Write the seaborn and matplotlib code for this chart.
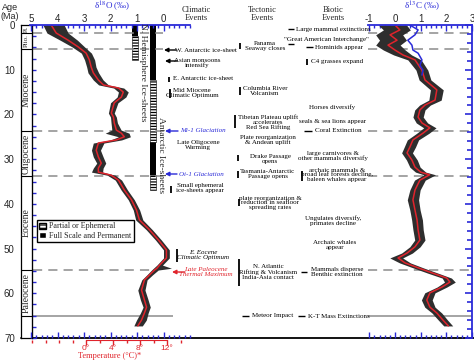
import matplotlib
matplotlib.use("Agg")

import matplotlib.pyplot as plt
import numpy as np
import seaborn as sns
from matplotlib.patches import Patch, Rectangle
from matplotlib.ticker import MultipleLocator

# ---------------- data ----------------
epoch_names = ["Pl.", "Plio.", "Miocene", "Oligocene", "Eocene", "Paleocene"]
epoch_bounds = [0.0, 1.8, 5.3, 23.8, 33.7, 54.8, 65.0]
age_ticks = list(range(0, 71, 10))

# benthic d18O: smoothed curve plus the edges of the data cloud
o18_age = [0, 1.8, 3.4, 4.9, 6.3, 7.8, 9.4, 10.7, 12.3, 13.4, 14.1, 15.0, 16.1, 17.4,
           19.7, 20.6, 21.9, 23.5, 24.2, 25.0, 25.7, 26.4, 28.0, 29.5, 30.9, 32.0,
           32.9, 33.6, 34.7, 36.9, 39.1, 41.4, 43.6, 45.8, 48.1, 50.3, 52.1, 53.7,
           54.4, 54.8, 55.9, 57.0, 59.3, 61.5, 63.1, 64.4, 66.0, 67.3]
o18_mid = [4.24, 4.05, 3.60, 3.22, 2.92, 2.80, 2.73, 2.65, 2.46, 2.27, 1.70, 1.52, 1.59, 1.86,
           1.97, 1.89, 1.86, 1.78, 1.59, 1.48, 1.78, 2.46, 2.54, 2.46, 2.35, 2.46,
           2.46, 1.97, 1.70, 1.48, 1.21, 1.02, 0.91, 0.53, 0.19, -0.11, -0.11, 0.15,
           0.25, 0.34, 0.53, 0.72, 0.83, 0.72, 0.64, 0.72, 0.83, 0.97]
o18_hi = [4.55, 4.40, 3.90, 3.45, 3.10, 2.98, 2.90, 2.85, 2.65, 2.45, 1.88, 1.70, 1.75, 2.00,
          2.08, 2.00, 1.98, 1.95, 2.20, 1.70, 2.00, 2.65, 2.72, 2.65, 2.52, 2.65,
          2.72, 2.12, 1.82, 1.60, 1.33, 1.14, 1.05, 0.65, 0.30, 0.00, 0.00, 0.25,
          0.38, 0.45, 0.63, 0.82, 0.97, 0.87, 0.77, 0.87, 1.02, 1.12]
o18_lo = [3.75, 3.60, 3.25, 2.98, 2.72, 2.60, 2.55, 2.45, 2.28, 2.08, 1.50, 1.33, 1.42, 1.72,
          1.86, 1.78, 1.74, 1.60, 1.30, 1.25, 1.58, 2.25, 2.38, 2.28, 2.18, 2.28,
          2.30, 1.82, 1.58, 1.36, 1.10, 0.90, 0.78, 0.42, 0.08, -0.22, -0.22, 0.04,
          -0.30, 0.20, 0.42, 0.62, 0.70, 0.58, 0.50, 0.58, 0.65, 0.80]

# benthic d13C
c13_age = [0, 1.1, 2.2, 3.4, 4.5, 5.6, 6.7, 7.8, 10.1, 12.3, 14.5, 16.8, 17.9, 19.0, 20.6,
           21.9, 23.0, 24.2, 25.7, 27.3, 28.6, 30.2, 31.8, 32.9, 33.5, 34.7, 36.9, 39.1,
           41.4, 43.6, 45.8, 48.1, 49.6, 51.0, 52.1, 53.2, 54.3, 55.5, 56.6, 57.5, 58.6,
           59.9, 61.5, 63.1, 64.4, 66.0, 67.3]
c13_mid = [0.00, 0.19, -0.19, 0.08, -0.27, 0.00, 0.31, 0.78, 1.05, 1.17, 1.63, 1.56, 1.17,
           0.97, 0.90, 1.05, 1.36, 1.09, 0.70, 0.58, 0.47, 0.66, 0.78, 1.00, 1.35, 0.97,
           0.78, 0.70, 0.78, 0.86, 0.90, 0.97, 0.78, 0.47, 0.12, 0.39, 0.90, 1.48, 2.02,
           2.14, 1.83, 1.36, 1.24, 1.36, 1.63, 1.87, 2.08]
c13_lo = [-0.65, -0.45, -0.75, -0.60, -0.75, -0.45, -0.05, 0.50, 0.82, 0.94, 1.38, 1.32, 0.96,
          0.77, 0.70, 0.83, 1.12, 0.85, 0.48, 0.36, 0.26, 0.45, 0.58, 0.80, 1.12, 0.76,
          0.58, 0.48, 0.58, 0.65, 0.70, 0.77, 0.58, 0.26, -0.20, 0.18, 0.70, 1.28, 1.84,
          1.93, 1.64, 1.16, 1.03, 1.16, 1.44, 1.69, 1.90]
c13_hi = [0.45, 0.60, 0.30, 0.45, 0.20, 0.40, 0.65, 1.02, 1.28, 1.40, 1.88, 1.80, 1.38,
          1.17, 1.10, 1.27, 1.60, 1.33, 0.92, 0.80, 0.68, 0.87, 0.98, 1.20, 1.58, 1.18,
          0.98, 0.92, 0.98, 1.07, 1.10, 1.17, 0.98, 0.68, 0.30, 0.60, 1.10, 1.68, 2.20,
          2.35, 2.02, 1.56, 1.45, 1.56, 1.82, 2.05, 2.25]
# second (blue) d13C record, Neogene only
c13b_age = [0, 1.1, 2.2, 3.4, 4.5, 5.6, 6.3, 7.8, 9.0, 10.1, 11.2]
c13b_val = [0.58, 0.90, 0.78, 0.50, 0.66, 0.70, 0.90, 1.05, 0.97, 1.09, 1.05]

# ice sheet extents (Ma)
nh_full = [(0.0, 2.5)]
nh_partial = [(2.5, 7.8)]
ant_full = [(0.0, 12.3), (26.2, 33.6)]
ant_partial = [(12.3, 26.2), (33.6, 37.0)]

o18_ticks = [5, 4, 3, 2, 1, 0]
c13_ticks = [-1, 0, 1, 2, 3]
temp_ticks = [0, 4, 8, 12]

# ---------------- styling ----------------
sns.set_style("white")
plt.rcParams["font.family"] = ["Liberation Serif", "DejaVu Serif"]
plt.rcParams["mathtext.fontset"] = "stix"
plt.rcParams["hatch.linewidth"] = 0.9
BLUE = "#2a2ad8"
RED = "#e0242c"
CLOUD = "#2e2e2e"
GRAY = "#8c8c8c"
SANS = "Liberation Sans"

W, H = 474, 361
TOP, BOT = 25, 338  # pixel rows of 0 Ma and 70 Ma

fig = plt.figure(figsize=(W / 100, H / 100), dpi=100)


def panel(x0, x1):
    return fig.add_axes([x0 / W, 1 - BOT / H, (x1 - x0) / W, (BOT - TOP) / H])


# base axes: x in pixels, y in Ma
ax = panel(0, 474)
ax.set_xlim(0, 474)
ax.set_ylim(70, 0)
ax.axis("off")

# epoch column with age axis
ax_ep = panel(21, 32)
ax_ep.set_xlim(0, 1)
ax_ep.set_ylim(70, 0)
ax_ep.set_xticks([])
ax_ep.set_yticks(age_ticks)
ax_ep.set_yticklabels(age_ticks, family=SANS, fontsize=7)
ax_ep.tick_params(axis="y", direction="out", length=3, width=0.8, pad=1.5)
for s in ax_ep.spines.values():
    s.set_color("black")
    s.set_linewidth(0.9)
for b in epoch_bounds[1:]:
    ax_ep.axhline(b, color="black", lw=0.8)
ep_sizes = [4.3, 5, 7, 7, 7, 7]
for name, a0, a1, fs in zip(epoch_names, epoch_bounds[:-1], epoch_bounds[1:], ep_sizes):
    ax_ep.text(0.5, (a0 + a1) / 2, name, rotation=90, ha="center", va="center", fontsize=fs)
sec = ax_ep.secondary_yaxis("right")
sec.set_yticks(np.arange(0, 70.1, 2.5))
sec.tick_params(axis="y", direction="out", length=3, width=1, color=BLUE, labelright=False)
fig.text(10 / W, 1 - 12 / H, "Age\n(Ma)", family=SANS, fontsize=6.5, ha="center", va="center",
         linespacing=1.0)

# dashed epoch boundaries across the figure
for b in epoch_bounds[1:-1]:
    right_end = 150 if b > 50 else 163
    ax.hlines(b, 33, right_end, colors=GRAY, lw=1.1, linestyles=(0, (6, 4)))
    ax.hlines(b, 368, 472, colors=GRAY, lw=1.1, linestyles=(0, (6, 4)))
ax.hlines(epoch_bounds[-1], 33, 173, colors=GRAY, lw=1.1)
ax.hlines(epoch_bounds[-1], 368, 472, colors=GRAY, lw=1.1)
ax.plot([21, 474], [70, 70], color="black", lw=1.3, clip_on=False)

# ---------------- d18O panel ----------------
ax18 = panel(30, 190)
ax18.patch.set_alpha(0)
ax18.set_xlim(5.04, -1.0)
ax18.set_ylim(70, 0)
ax18.fill_betweenx(o18_age, o18_lo, o18_hi, color=CLOUD, lw=0)
sns.lineplot(x=o18_mid, y=o18_age, sort=False, estimator=None, color=RED, lw=1.1, ax=ax18)
for side in ["left", "right", "bottom"]:
    ax18.spines[side].set_visible(False)
ax18.spines["top"].set_color(BLUE)
ax18.spines["top"].set_linewidth(1.3)
ax18.set_xticks(o18_ticks)
ax18.set_xticklabels(o18_ticks, family=SANS, fontsize=7)
ax18.xaxis.set_minor_locator(MultipleLocator(0.2))
ax18.tick_params(axis="x", which="both", top=True, bottom=True, labeltop=True, labelbottom=False,
                 direction="in", color=BLUE, width=1, pad=1)
ax18.tick_params(axis="x", which="major", length=4)
ax18.tick_params(axis="x", which="minor", length=2.5)
ax18.set_yticks([])
ax18.set_xlabel("")
ax18.set_ylabel("")
fig.text(112 / W, 1 - 6 / H, "δ$^{18}$O (‰)", color=BLUE, fontsize=6.5, ha="center", va="center")


def d2t(d):
    return 3.925 * (2.925 - np.asarray(d))


def t2d(t):
    return 2.925 - np.asarray(t) / 3.925


tax = ax18.secondary_xaxis(-0.006, functions=(d2t, t2d))
tax.xaxis.set_ticks_position("bottom")
tax.xaxis.set_label_position("bottom")
tax.set_xticks(temp_ticks)
tax.set_xticklabels([f"{t}°" for t in temp_ticks], family=SANS, fontsize=6, color=RED)
tax.xaxis.set_minor_locator(MultipleLocator(2))
tax.tick_params(axis="x", which="both", direction="out", color=RED, width=1, pad=0.5)
tax.tick_params(axis="x", which="major", length=3.5)
tax.tick_params(axis="x", which="minor", length=2.2)
tax.spines["bottom"].set_bounds(0, 12)
tax.spines["bottom"].set_color(RED)
tax.set_xlabel("Temperature (°C)*", color=RED, fontsize=6, labelpad=0)

# ---------------- d13C panel ----------------
ax13 = panel(368, 472)
ax13.patch.set_alpha(0)
ax13.set_xlim(-1.05, 3.0)
ax13.set_ylim(70, 0)
ax13.fill_betweenx(c13_age, c13_lo, c13_hi, color=CLOUD, lw=0)
sns.lineplot(x=c13_mid, y=c13_age, sort=False, estimator=None, color=RED, lw=1.1, ax=ax13)
sns.lineplot(x=c13b_val, y=c13b_age, sort=False, estimator=None, color=BLUE, lw=1.1, ax=ax13)
for side in ["left", "bottom"]:
    ax13.spines[side].set_visible(False)
for side in ["top", "right"]:
    ax13.spines[side].set_color(BLUE)
    ax13.spines[side].set_linewidth(1.3)
ax13.set_xticks(c13_ticks)
ax13.set_xticklabels(c13_ticks, family=SANS, fontsize=7)
ax13.xaxis.set_minor_locator(MultipleLocator(0.2))
ax13.tick_params(axis="x", which="both", top=True, bottom=True, labeltop=True, labelbottom=False,
                 direction="in", color=BLUE, width=1, pad=1)
ax13.tick_params(axis="x", which="major", length=4)
ax13.tick_params(axis="x", which="minor", length=2.5)
ax13.yaxis.set_major_locator(MultipleLocator(10))
ax13.yaxis.set_minor_locator(MultipleLocator(2))
ax13.tick_params(axis="y", which="both", left=False, right=True, labelleft=False, labelright=False,
                 direction="in", color=BLUE, width=1.2)
ax13.tick_params(axis="y", which="major", length=5)
ax13.tick_params(axis="y", which="minor", length=3.5)
ax13.set_xlabel("")
ax13.set_ylabel("")
fig.text(422 / W, 1 - 6 / H, "δ$^{13}$C (‰)", color=BLUE, fontsize=6.5, ha="center", va="center")

# ---------------- ice sheet bars ----------------
for x0, full, part in [(132, nh_full, nh_partial), (150, ant_full, ant_partial)]:
    for a0, a1 in full:
        ax.add_patch(Rectangle((x0, a0), 6.5, a1 - a0, facecolor="black", lw=0))
    for a0, a1 in part:
        ax.add_patch(Rectangle((x0, a0), 6.5, a1 - a0, facecolor="white", edgecolor="black",
                               hatch="------", lw=0.4))

ax.legend(handles=[Patch(facecolor="white", edgecolor="black", hatch="-----", label="Partial or Ephemeral"),
                   Patch(facecolor="black", label="Full Scale and Permanent")],
          loc="upper left", bbox_to_anchor=(37 / W, 1 - 220 / H), bbox_transform=fig.transFigure,
          frameon=True, fancybox=False, edgecolor="black", framealpha=1, fontsize=5.8,
          handlelength=0.8, handleheight=0.8, borderpad=0.3, labelspacing=0.15, handletextpad=0.4,
          borderaxespad=0)

# ---------------- annotation text (pixel coordinates) ----------------
ov = fig.add_axes([0, 0, 1, 1])
ov.set_xlim(0, W)
ov.set_ylim(H, 0)
ov.axis("off")

ov.text(143, 72, "N. Hemisphere Ice-sheets", rotation=270, ha="center", va="center", fontsize=6.8)
ov.text(161, 155, "Antarctic Ice-sheets", rotation=270, ha="center", va="center", fontsize=6.8)

FS = 5.0
headers = [(196, 14, "Climatic\nEvents"), (262, 14, "Tectonic\nEvents"), (333, 14, "Biotic\nEvents")]
for x, y, s in headers:
    ov.text(x, y, s, ha="center", va="center", fontsize=6, linespacing=1.0)

notes = [
    (175, 50, "W. Antarctic ice-sheet", "left", "black", "normal"),
    (197, 63, "Asian monsoons\nintensify", "center", "black", "normal"),
    (173, 79, "E. Antarctic ice-sheet", "left", "black", "normal"),
    (192, 93, "Mid Miocene\nClimatic Optimum", "center", "black", "normal"),
    (180, 131, "Mi-1 Glaciation", "left", BLUE, "italic"),
    (198, 145, "Late Oligocene\nWarming", "center", "black", "normal"),
    (179, 174, "Oi-1 Glaciation", "left", BLUE, "italic"),
    (200, 188, "Small ephemeral\nice-sheets appear", "center", "black", "normal"),
    (203, 255, "E. Eocene\nClimatic Optimum", "center", "black", "italic"),
    (206, 272, "Late Paleocene\nThermal Maximum", "center", RED, "italic"),
    (265, 46, "Panama\nSeaway closes", "center", "black", "normal"),
    (265, 91, "Columbia River\nVolcanism", "center", "black", "normal"),
    (268, 122, "Tibetan Plateau uplift\naccelerates\nRed Sea Rifting", "center", "black", "normal"),
    (268, 140, "Plate reorganization\n& Andean uplift", "center", "black", "normal"),
    (270, 159, "Drake Passage\nopens", "center", "black", "normal"),
    (268, 174, "Tasmania-Antarctic\nPassage opens", "center", "black", "normal"),
    (270, 203, "plate reorganization &\nreduction in seafloor\nspreading rates", "center", "black", "normal"),
    (268, 272, "N. Atlantic\nRifting & Volcanism\nIndia-Asia contact", "center", "black", "normal"),
    (252, 316, "Meteor Impact", "left", "black", "normal"),
    (296, 29, "Large mammal extinctions", "left", "black", "normal"),
    (326, 40, "\"Great American Interchange\"", "center", "black", "normal"),
    (315, 47, "Hominids appear", "left", "black", "normal"),
    (311, 62, "C4 grasses expand", "left", "black", "normal"),
    (332, 107, "Horses diversify", "center", "black", "normal"),
    (333, 121, "seals & sea lions appear", "center", "black", "normal"),
    (315, 131, "Coral Extinction", "left", "black", "normal"),
    (333, 156, "large carnivores &\nother mammals diversify", "center", "black", "normal"),
    (337, 175, "archaic mammals &\nbroad leaf forests decline,\nbaleen whales appear", "center", "black", "normal"),
    (333, 221, "Ungulates diversify,\nprimates decline", "center", "black", "normal"),
    (335, 245, "Archaic whales\nappear", "center", "black", "normal"),
    (337, 272, "Mammals disperse\nBenthic extinction", "center", "black", "normal"),
    (308, 316, "K-T Mass Extinctions", "left", "black", "normal"),
]
for x, y, s, ha, col, style in notes:
    ov.text(x, y, s, ha=ha, va="center", fontsize=FS, color=col, style=style, linespacing=0.95)

# short event bars and dashes
bars = [(169, 77, 82), (170, 89, 98), (171, 186, 193), (177, 249, 262),
        (240, 43, 49), (240, 87, 95), (235, 115, 128), (238, 155, 161), (238, 171, 178),
        (239, 199, 206), (239, 259, 286), (307, 59, 65), (302, 171, 181)]
for x, y0, y1 in bars:
    ov.vlines(x, y0, y1, colors="black", lw=1.3)
dashes = [(242, 249, 316), (288, 294, 29), (288, 294, 44), (306, 313, 47), (304, 312, 131),
          (301, 307, 272), (298, 305, 316)]
for x0, x1, y in dashes:
    ov.hlines(y, x0, x1, colors="black", lw=1.0)

arrows = [((176, 50), (164, 50), "black"), ((177, 61), (165, 61), "black"),
          ((178, 131), (165, 131), BLUE), ((177, 174), (165, 174), BLUE),
          ((185, 272), (172, 272), RED)]
for (x0, y0), (x1, y1), col in arrows:
    ov.annotate("", xy=(x1, y1), xytext=(x0, y0),
                arrowprops=dict(arrowstyle="-|>", color=col, lw=1.0, mutation_scale=6,
                                shrinkA=0, shrinkB=0))

fig.savefig("out.png", dpi=100)
